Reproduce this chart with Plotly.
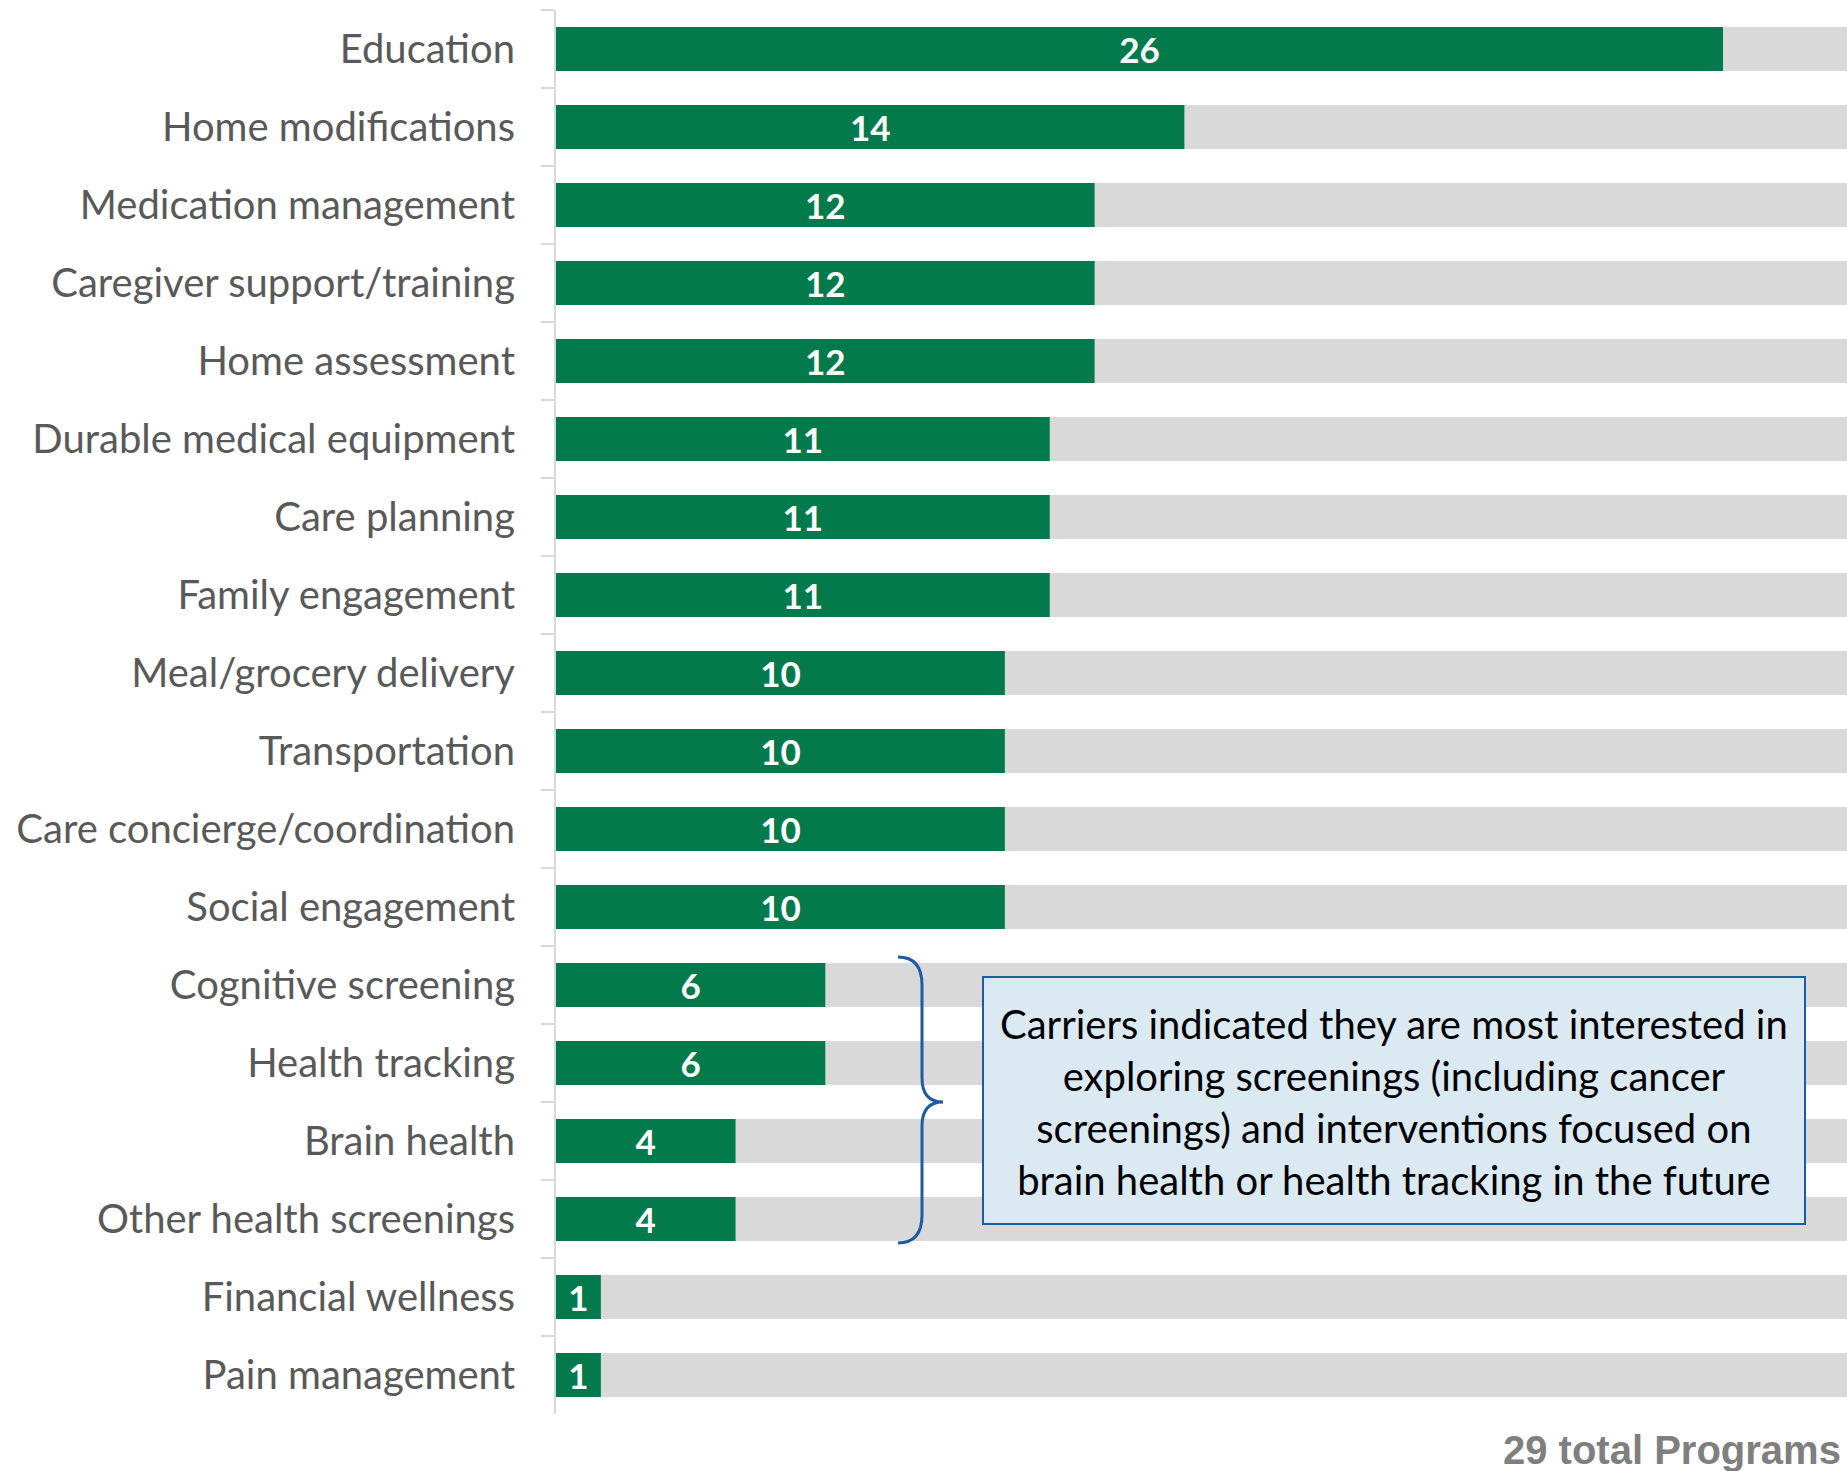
import plotly.graph_objects as go

categories = [
    "Education", "Home modifications", "Medication management",
    "Caregiver support/training", "Home assessment", "Durable medical equipment",
    "Care planning", "Family engagement", "Meal/grocery delivery",
    "Transportation", "Care concierge/coordination", "Social engagement",
    "Cognitive screening", "Health tracking", "Brain health",
    "Other health screenings", "Financial wellness", "Pain management",
]
programs = [26, 14, 12, 12, 12, 11, 11, 11, 10, 10, 10, 10, 6, 6, 4, 4, 1, 1]
total_programs = 29
totals = [total_programs] * len(categories)

callout_text = ("Carriers indicated they are most interested in<br>"
                "exploring screenings (including cancer<br>"
                "screenings) and interventions focused on<br>"
                "brain health or health tracking in the future")
footer_text = f"{total_programs} total Programs"

W, H = 1847, 1471
ML, MR, MT, MB = 556, 0, 10, 57
PW, PH = W - ML - MR, H - MT - MB
UNIT = 1167 / 26  # px per program


def px(x):
    return (x - ML) / PW


def py(y):
    return (H - MB - y) / PH


GREEN = "#027A4B"
GRAY = "#D9D9D9"

fig = go.Figure()
fig.add_trace(go.Bar(
    y=categories, x=totals, orientation="h",
    marker=dict(color=GRAY, line=dict(width=0)),
    hoverinfo="skip", showlegend=False,
))
fig.add_trace(go.Bar(
    y=categories, x=programs, orientation="h",
    marker=dict(color=GREEN, line=dict(width=0)),
    text=[str(v) for v in programs], textposition="inside", textangle=0,
    insidetextanchor="middle", constraintext="none",
    textfont=dict(family="Lato", size=35, color="white", weight="bold"),
    hoverinfo="skip", showlegend=False,
))

# brace
brace = (f"M {px(898)},{py(957)} Q {px(922)},{py(957)} {px(922)},{py(985)} "
         f"L {px(922)},{py(1078)} Q {px(922)},{py(1102)} {px(943)},{py(1102)} "
         f"Q {px(922)},{py(1102)} {px(922)},{py(1126)} "
         f"L {px(922)},{py(1215)} Q {px(922)},{py(1243)} {px(898)},{py(1243)}")
fig.add_shape(type="path", path=brace, xref="paper", yref="paper",
              line=dict(color="#1F5AA6", width=3), layer="above")
fig.add_shape(type="rect", xref="paper", yref="paper",
              x0=px(983), x1=px(1805), y0=py(1224), y1=py(977),
              fillcolor="#DAE9F2", line=dict(color="#1F5AA6", width=2),
              layer="above")
fig.add_annotation(x=px(1394), y=py(1102), xref="paper", yref="paper",
                   text=callout_text, showarrow=False, align="center",
                   xanchor="center", yanchor="middle",
                   font=dict(family="Lato", size=40, color="black"))
fig.add_annotation(x=px(1843), y=py(1450), xref="paper", yref="paper",
                   text=f"<b>{footer_text}</b>", showarrow=False,
                   xanchor="right", yanchor="middle",
                   font=dict(family="Liberation Sans", size=40, color="#7F7F7F"))

fig.update_layout(
    width=W, height=H,
    margin=dict(l=ML, r=MR, t=MT, b=MB),
    paper_bgcolor="white", plot_bgcolor="white",
    barmode="overlay", bargap=0.436,
    xaxis=dict(range=[0, PW / UNIT], visible=False, showgrid=False, zeroline=False),
    yaxis=dict(
        categoryorder="array", categoryarray=categories, autorange="reversed",
        showline=True, linecolor=GRAY, linewidth=2,
        ticks="outside", tickson="boundaries", ticklen=13, tickcolor=GRAY, tickwidth=2,
        ticklabelstandoff=31,
        tickfont=dict(family="Lato", size=40, color="#595959"),
        showgrid=False,
    ),
)

fig.write_html("out.html")
